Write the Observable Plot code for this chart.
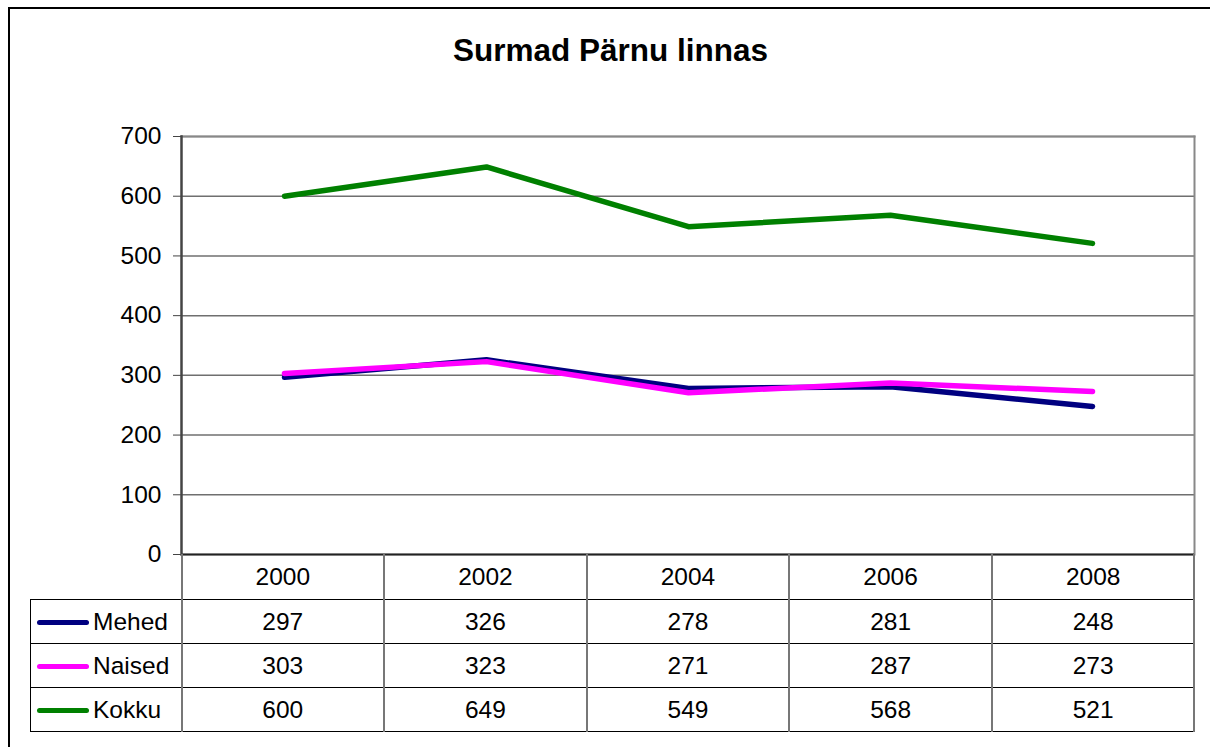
<!DOCTYPE html>
<html><head><meta charset="utf-8">
<script src="https://cdn.jsdelivr.net/npm/d3@7"></script>
<script src="https://cdn.jsdelivr.net/npm/@observablehq/plot@0.6"></script>
<style>
body{margin:0;width:1210px;height:747px;overflow:hidden;position:relative;background:#fff;font-family:"Liberation Sans",Arial,sans-serif;color:#000;}
#frame{position:absolute;left:8px;top:7px;width:1230px;height:790px;border:2px solid #000;box-sizing:border-box;}
#title{position:absolute;left:0;width:1221px;top:35px;font-size:31.5px;line-height:31.5px;font-weight:bold;text-align:center;}
#chart{position:absolute;left:0;top:0;}
#tbl{position:absolute;left:30px;top:554px;border-collapse:collapse;table-layout:fixed;font-size:24.5px;}
#tbl td{padding:0;text-align:center;vertical-align:middle;border-top:1.5px solid #000;border-bottom:1.5px solid #000;border-left:2px solid #777;border-right:2px solid #777;}
#tbl tr.hdr td{border-top:none;height:45px;}
#tbl tr.hdr td.blank{border:none;border-bottom:1.5px solid #000;border-right:2px solid #777;}
#tbl td.lab{text-align:left;padding-left:6px;border-left:1.5px solid #000;}
#tbl tr.row td{height:43px;}
.sw{display:inline-block;width:52px;height:5px;border-radius:3px;vertical-align:middle;margin-right:4px;position:relative;top:-1px;}
</style>
</head><body>
<div id="frame"></div>
<div id="title">Surmad Pärnu linnas</div>
<div id="chart"></div>
<table id="tbl"></table>
<script>
const years = [2000, 2002, 2004, 2006, 2008];
const mehed = [297, 326, 278, 281, 248];
const naised = [303, 323, 271, 287, 273];
const kokku = [600, 649, 549, 568, 521];
const seriesNames = ["Mehed", "Naised", "Kokku"];
const seriesColors = ["#000080", "#ff00ff", "#008000"];
const yTicks = [0, 100, 200, 300, 400, 500, 600, 700];

const seriesValues = [mehed, naised, kokku];
const rows = [];
seriesNames.forEach((s, i) => years.forEach((y, j) => rows.push({series: s, year: y, value: seriesValues[i][j]})));

const chart = Plot.plot({
  width: 1210,
  height: 600,
  marginLeft: 181,
  marginRight: 16,
  marginTop: 136,
  marginBottom: 46,
  style: {fontFamily: "'Liberation Sans', Arial, sans-serif", fontSize: "24px", color: "#000", background: "transparent"},
  x: {type: "point", domain: years, padding: 0.5, axis: null},
  y: {domain: [0, 700], ticks: yTicks},
  marks: [
    Plot.gridY(yTicks, {stroke: "#6f6f6f", strokeOpacity: 1, strokeWidth: 1.5}),
    Plot.frame({anchor: "right", stroke: "#888", strokeWidth: 2}),
    Plot.frame({anchor: "top", stroke: "#888", strokeWidth: 2}),
    Plot.axisY(yTicks, {tickSize: 8, tickPadding: 12, fontSize: 24.5, stroke: "#444", label: null, tickFormat: d => String(d)}),
    Plot.ruleY([0], {stroke: "#222", strokeWidth: 2}),
    Plot.frame({anchor: "left", stroke: "#444", strokeWidth: 2.5}),
    Plot.line(rows, {x: "year", y: "value", z: "series", stroke: "series", strokeWidth: 5.5, strokeLinejoin: "round"})
  ],
  color: {domain: seriesNames, range: seriesColors}
});
document.getElementById("chart").appendChild(chart);

// data table (Excel-style legend + values)
const tbl = document.getElementById("tbl");
const colg = document.createElement("colgroup");
const c0 = document.createElement("col"); c0.style.width = "151px"; colg.appendChild(c0);
years.forEach(() => { const c = document.createElement("col"); c.style.width = "202.6px"; colg.appendChild(c); });
tbl.appendChild(colg);
const hdr = document.createElement("tr"); hdr.className = "hdr";
const b = document.createElement("td"); b.className = "blank"; hdr.appendChild(b);
years.forEach(y => { const td = document.createElement("td"); td.textContent = y; hdr.appendChild(td); });
tbl.appendChild(hdr);
seriesNames.forEach((s, i) => {
  const tr = document.createElement("tr"); tr.className = "row";
  const lab = document.createElement("td"); lab.className = "lab";
  const sw = document.createElement("span"); sw.className = "sw"; sw.style.background = seriesColors[i];
  lab.appendChild(sw); lab.appendChild(document.createTextNode(s));
  tr.appendChild(lab);
  seriesValues[i].forEach(v => { const td = document.createElement("td"); td.textContent = v; tr.appendChild(td); });
  tbl.appendChild(tr);
});
</script>
</body></html>
